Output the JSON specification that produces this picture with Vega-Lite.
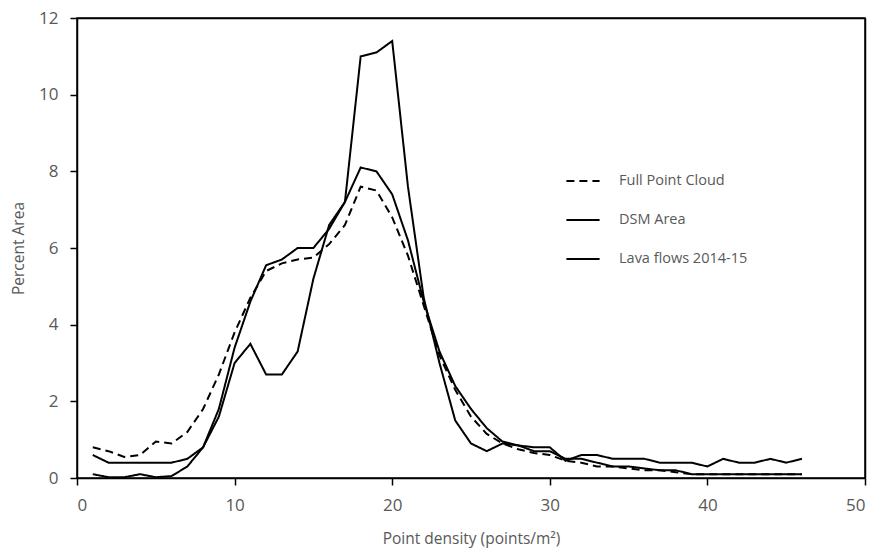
{
  "$schema": "https://vega.github.io/schema/vega-lite/v6.json",
  "width": 788,
  "height": 460,
  "autosize": "none",
  "padding": {"left": 77, "top": 18, "right": 12, "bottom": 70},
  "background": "white",
  "config": {
    "view": {"stroke": null},
    "font": "Open Sans",
    "axis": {
      "grid": false,
      "domainColor": "black",
      "domainWidth": 1.5,
      "tickColor": "black",
      "tickWidth": 1.5,
      "tickSize": 7,
      "labelColor": "#595959",
      "labelFontSize": 17,
      "labelFont": "Open Sans",
      "titleColor": "#595959",
      "titleFontSize": 15.5,
      "titleFontWeight": "normal",
      "titleFont": "Open Sans"
    }
  },
  "resolve": {"axis": {"x": "independent", "y": "independent"}},
  "layer": [
    {
      "data": {"values": [{"a": 0, "b": 50, "c": 0, "d": 12}]},
      "mark": {"type": "rect", "fill": null, "fillOpacity": 0, "stroke": "black", "strokeWidth": 1.5},
      "encoding": {
        "x": {"field": "a", "type": "quantitative", "scale": {"domain": [0, 50], "nice": false}, "axis": {"orient": "top", "labels": false, "ticks": false, "title": null, "domainColor": "black", "domainWidth": 1.5}},
        "x2": {"field": "b"},
        "y": {"field": "c", "type": "quantitative", "scale": {"domain": [0, 12], "nice": false}, "axis": {"orient": "right", "labels": false, "ticks": false, "title": null, "domainColor": "black", "domainWidth": 1.5}},
        "y2": {"field": "d"}
      }
    },
    {
      "data": {
        "values": [
          {"x": 1, "s": "Full Point Cloud", "y": 0.8},
          {"x": 2, "s": "Full Point Cloud", "y": 0.7},
          {"x": 3, "s": "Full Point Cloud", "y": 0.55},
          {"x": 4, "s": "Full Point Cloud", "y": 0.6},
          {"x": 5, "s": "Full Point Cloud", "y": 0.95},
          {"x": 6, "s": "Full Point Cloud", "y": 0.9},
          {"x": 7, "s": "Full Point Cloud", "y": 1.2},
          {"x": 8, "s": "Full Point Cloud", "y": 1.8},
          {"x": 9, "s": "Full Point Cloud", "y": 2.7},
          {"x": 10, "s": "Full Point Cloud", "y": 3.8},
          {"x": 11, "s": "Full Point Cloud", "y": 4.7},
          {"x": 12, "s": "Full Point Cloud", "y": 5.4},
          {"x": 13, "s": "Full Point Cloud", "y": 5.6},
          {"x": 14, "s": "Full Point Cloud", "y": 5.7},
          {"x": 15, "s": "Full Point Cloud", "y": 5.75},
          {"x": 16, "s": "Full Point Cloud", "y": 6.1},
          {"x": 17, "s": "Full Point Cloud", "y": 6.6},
          {"x": 18, "s": "Full Point Cloud", "y": 7.6},
          {"x": 19, "s": "Full Point Cloud", "y": 7.5},
          {"x": 20, "s": "Full Point Cloud", "y": 6.8},
          {"x": 21, "s": "Full Point Cloud", "y": 5.8},
          {"x": 22, "s": "Full Point Cloud", "y": 4.5},
          {"x": 23, "s": "Full Point Cloud", "y": 3.2},
          {"x": 24, "s": "Full Point Cloud", "y": 2.3},
          {"x": 25, "s": "Full Point Cloud", "y": 1.6},
          {"x": 26, "s": "Full Point Cloud", "y": 1.15},
          {"x": 27, "s": "Full Point Cloud", "y": 0.9},
          {"x": 28, "s": "Full Point Cloud", "y": 0.75},
          {"x": 29, "s": "Full Point Cloud", "y": 0.65},
          {"x": 30, "s": "Full Point Cloud", "y": 0.6},
          {"x": 31, "s": "Full Point Cloud", "y": 0.45},
          {"x": 32, "s": "Full Point Cloud", "y": 0.4},
          {"x": 33, "s": "Full Point Cloud", "y": 0.3},
          {"x": 34, "s": "Full Point Cloud", "y": 0.3},
          {"x": 35, "s": "Full Point Cloud", "y": 0.25},
          {"x": 36, "s": "Full Point Cloud", "y": 0.2},
          {"x": 37, "s": "Full Point Cloud", "y": 0.2},
          {"x": 38, "s": "Full Point Cloud", "y": 0.15},
          {"x": 39, "s": "Full Point Cloud", "y": 0.1},
          {"x": 40, "s": "Full Point Cloud", "y": 0.1},
          {"x": 41, "s": "Full Point Cloud", "y": 0.1},
          {"x": 42, "s": "Full Point Cloud", "y": 0.1},
          {"x": 43, "s": "Full Point Cloud", "y": 0.1},
          {"x": 44, "s": "Full Point Cloud", "y": 0.1},
          {"x": 45, "s": "Full Point Cloud", "y": 0.1},
          {"x": 46, "s": "Full Point Cloud", "y": 0.1},
          {"x": 1, "s": "DSM Area", "y": 0.6},
          {"x": 2, "s": "DSM Area", "y": 0.4},
          {"x": 3, "s": "DSM Area", "y": 0.4},
          {"x": 4, "s": "DSM Area", "y": 0.4},
          {"x": 5, "s": "DSM Area", "y": 0.4},
          {"x": 6, "s": "DSM Area", "y": 0.4},
          {"x": 7, "s": "DSM Area", "y": 0.5},
          {"x": 8, "s": "DSM Area", "y": 0.8},
          {"x": 9, "s": "DSM Area", "y": 1.8},
          {"x": 10, "s": "DSM Area", "y": 3.4},
          {"x": 11, "s": "DSM Area", "y": 4.6},
          {"x": 12, "s": "DSM Area", "y": 5.55},
          {"x": 13, "s": "DSM Area", "y": 5.7},
          {"x": 14, "s": "DSM Area", "y": 6.0},
          {"x": 15, "s": "DSM Area", "y": 6.0},
          {"x": 16, "s": "DSM Area", "y": 6.5},
          {"x": 17, "s": "DSM Area", "y": 7.2},
          {"x": 18, "s": "DSM Area", "y": 8.1},
          {"x": 19, "s": "DSM Area", "y": 8.0},
          {"x": 20, "s": "DSM Area", "y": 7.4},
          {"x": 21, "s": "DSM Area", "y": 6.2},
          {"x": 22, "s": "DSM Area", "y": 4.6},
          {"x": 23, "s": "DSM Area", "y": 3.3},
          {"x": 24, "s": "DSM Area", "y": 2.4},
          {"x": 25, "s": "DSM Area", "y": 1.8},
          {"x": 26, "s": "DSM Area", "y": 1.3},
          {"x": 27, "s": "DSM Area", "y": 0.95},
          {"x": 28, "s": "DSM Area", "y": 0.85},
          {"x": 29, "s": "DSM Area", "y": 0.7},
          {"x": 30, "s": "DSM Area", "y": 0.7},
          {"x": 31, "s": "DSM Area", "y": 0.5},
          {"x": 32, "s": "DSM Area", "y": 0.5},
          {"x": 33, "s": "DSM Area", "y": 0.4},
          {"x": 34, "s": "DSM Area", "y": 0.3},
          {"x": 35, "s": "DSM Area", "y": 0.3},
          {"x": 36, "s": "DSM Area", "y": 0.25},
          {"x": 37, "s": "DSM Area", "y": 0.2},
          {"x": 38, "s": "DSM Area", "y": 0.2},
          {"x": 39, "s": "DSM Area", "y": 0.1},
          {"x": 40, "s": "DSM Area", "y": 0.1},
          {"x": 41, "s": "DSM Area", "y": 0.1},
          {"x": 42, "s": "DSM Area", "y": 0.1},
          {"x": 43, "s": "DSM Area", "y": 0.1},
          {"x": 44, "s": "DSM Area", "y": 0.1},
          {"x": 45, "s": "DSM Area", "y": 0.1},
          {"x": 46, "s": "DSM Area", "y": 0.1},
          {"x": 1, "s": "Lava flows 2014-15", "y": 0.1},
          {"x": 2, "s": "Lava flows 2014-15", "y": 0.02},
          {"x": 3, "s": "Lava flows 2014-15", "y": 0.02},
          {"x": 4, "s": "Lava flows 2014-15", "y": 0.1},
          {"x": 5, "s": "Lava flows 2014-15", "y": 0.02},
          {"x": 6, "s": "Lava flows 2014-15", "y": 0.05},
          {"x": 7, "s": "Lava flows 2014-15", "y": 0.3},
          {"x": 8, "s": "Lava flows 2014-15", "y": 0.8},
          {"x": 9, "s": "Lava flows 2014-15", "y": 1.6},
          {"x": 10, "s": "Lava flows 2014-15", "y": 3.0},
          {"x": 11, "s": "Lava flows 2014-15", "y": 3.5},
          {"x": 12, "s": "Lava flows 2014-15", "y": 2.7},
          {"x": 13, "s": "Lava flows 2014-15", "y": 2.7},
          {"x": 14, "s": "Lava flows 2014-15", "y": 3.3},
          {"x": 15, "s": "Lava flows 2014-15", "y": 5.2},
          {"x": 16, "s": "Lava flows 2014-15", "y": 6.6},
          {"x": 17, "s": "Lava flows 2014-15", "y": 7.2},
          {"x": 18, "s": "Lava flows 2014-15", "y": 11.0},
          {"x": 19, "s": "Lava flows 2014-15", "y": 11.1},
          {"x": 20, "s": "Lava flows 2014-15", "y": 11.4},
          {"x": 21, "s": "Lava flows 2014-15", "y": 7.6},
          {"x": 22, "s": "Lava flows 2014-15", "y": 4.7},
          {"x": 23, "s": "Lava flows 2014-15", "y": 3.0},
          {"x": 24, "s": "Lava flows 2014-15", "y": 1.5},
          {"x": 25, "s": "Lava flows 2014-15", "y": 0.9},
          {"x": 26, "s": "Lava flows 2014-15", "y": 0.7},
          {"x": 27, "s": "Lava flows 2014-15", "y": 0.9},
          {"x": 28, "s": "Lava flows 2014-15", "y": 0.85},
          {"x": 29, "s": "Lava flows 2014-15", "y": 0.8},
          {"x": 30, "s": "Lava flows 2014-15", "y": 0.8},
          {"x": 31, "s": "Lava flows 2014-15", "y": 0.45},
          {"x": 32, "s": "Lava flows 2014-15", "y": 0.6},
          {"x": 33, "s": "Lava flows 2014-15", "y": 0.6},
          {"x": 34, "s": "Lava flows 2014-15", "y": 0.5},
          {"x": 35, "s": "Lava flows 2014-15", "y": 0.5},
          {"x": 36, "s": "Lava flows 2014-15", "y": 0.5},
          {"x": 37, "s": "Lava flows 2014-15", "y": 0.4},
          {"x": 38, "s": "Lava flows 2014-15", "y": 0.4},
          {"x": 39, "s": "Lava flows 2014-15", "y": 0.4},
          {"x": 40, "s": "Lava flows 2014-15", "y": 0.3},
          {"x": 41, "s": "Lava flows 2014-15", "y": 0.5},
          {"x": 42, "s": "Lava flows 2014-15", "y": 0.4},
          {"x": 43, "s": "Lava flows 2014-15", "y": 0.4},
          {"x": 44, "s": "Lava flows 2014-15", "y": 0.5},
          {"x": 45, "s": "Lava flows 2014-15", "y": 0.4},
          {"x": 46, "s": "Lava flows 2014-15", "y": 0.5}
        ]
      },
      "mark": {"type": "line", "color": "black", "strokeJoin": "miter"},
      "encoding": {
        "x": {"field": "x", "type": "quantitative", "scale": {"domain": [0, 50], "nice": false}, "axis": {"values": [0, 10, 20, 30, 40, 50], "title": "Point density (points/m²)", "labelPadding": 12, "titlePadding": 18}},
        "y": {"field": "y", "type": "quantitative", "scale": {"domain": [0, 12], "nice": false}, "axis": {"values": [0, 2, 4, 6, 8, 10, 12], "title": "Percent Area", "labelPadding": 12, "titlePadding": 12}},
        "detail": {"field": "s"},
        "strokeDash": {
          "field": "s", "type": "nominal",
          "scale": {"domain": ["Full Point Cloud", "DSM Area", "Lava flows 2014-15"], "range": [[8, 5], [1, 0], [1, 0]]},
          "legend": {
            "title": null, "orient": "none", "legendX": 488, "legendY": 145,
            "symbolType": "stroke", "symbolSize": 1100, "symbolStrokeColor": "black", "symbolStrokeWidth": 2.4,
            "labelFontSize": 14.5, "labelColor": "#595959", "labelFont": "Open Sans",
            "rowPadding": 14, "labelOffset": 18
          }
        },
        "strokeWidth": {
          "field": "s", "type": "nominal",
          "scale": {"domain": ["Full Point Cloud", "DSM Area", "Lava flows 2014-15"], "range": [2, 2, 3]},
          "legend": null
        }
      }
    }
  ]
}
